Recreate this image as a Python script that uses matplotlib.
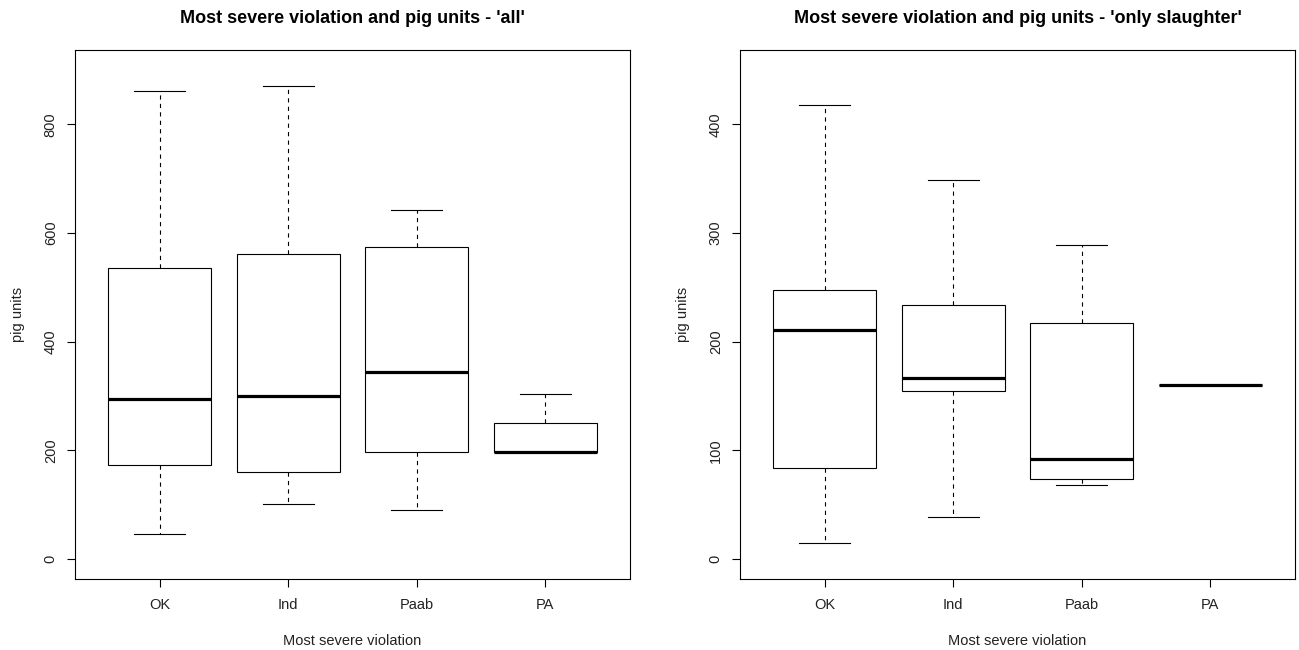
import matplotlib
matplotlib.use('Agg')
import matplotlib.pyplot as plt

plt.rcParams['font.family'] = ['Liberation Sans', 'DejaVu Sans']

categories = ['OK', 'Ind', 'Paab', 'PA']

# Panel 1: 'all'
all_whislo = [47, 102, 90, 198]
all_q1 = [173, 160, 197, 198]
all_med = [294, 301, 345, 198]
all_q3 = [535, 562, 575, 250]
all_whishi = [862, 870, 642, 303]

# Panel 2: 'only slaughter'
sl_whislo = [15, 39, 68, 160]
sl_q1 = [84, 155, 74, 160]
sl_med = [211, 167, 92, 160]
sl_q3 = [248, 234, 217, 160]
sl_whishi = [418, 349, 289, 160]

titles = ["Most severe violation and pig units - 'all'",
          "Most severe violation and pig units - 'only slaughter'"]
xlabel = "Most severe violation"
ylabel = "pig units"
yticks_all = [0, 200, 400, 600, 800]
yticks_sl = [0, 100, 200, 300, 400]


def make_stats(lo, q1, med, q3, hi):
    return [dict(label=c, whislo=a, q1=b, med=m, q3=d, whishi=e, fliers=[])
            for c, a, b, m, d, e in zip(categories, lo, q1, med, q3, hi)]


W, H = 1299, 650
fig = plt.figure(figsize=(W / 100, H / 100), dpi=100)
ax_bottom = 1 - 578.7 / H
ax_height = 528.3 / H
ax1 = fig.add_axes([75 / W, ax_bottom, 555 / W, ax_height])
ax2 = fig.add_axes([740 / W, ax_bottom, 555 / W, ax_height])

panels = [
    (ax1, make_stats(all_whislo, all_q1, all_med, all_q3, all_whishi), (-36, 936), yticks_all, titles[0]),
    (ax2, make_stats(sl_whislo, sl_q1, sl_med, sl_q3, sl_whishi), (-18, 468), yticks_sl, titles[1]),
]

lw = 0.8
for ax, stats, ylim, yt, title in panels:
    ax.bxp(stats, positions=[1, 2, 3, 4], widths=0.8, capwidths=0.4,
           showfliers=False, patch_artist=True,
           boxprops=dict(facecolor='white', edgecolor='black', linewidth=lw),
           whiskerprops=dict(color='black', linewidth=lw, linestyle=(0, (3.8, 3.8))),
           capprops=dict(color='black', linewidth=lw),
           medianprops=dict(color='black', linewidth=2.3, solid_capstyle='butt'))
    ax.set_xlim(0.34, 4.66)
    ax.set_ylim(*ylim)
    ax.set_yticks(yt)
    ax.set_xticks([1, 2, 3, 4])
    ax.set_xticklabels(categories)
    for s in ax.spines.values():
        s.set_linewidth(lw)
        s.set_color('black')
    ax.tick_params(axis='both', direction='out', length=6.1, width=lw,
                   labelsize=10.5, labelcolor='#222222', color='black')
    ax.tick_params(axis='x', pad=7.5)
    ax.tick_params(axis='y', pad=6.3, labelrotation=90)
    for t in ax.get_yticklabels():
        t.set_va('center')
    ax.set_xlabel(xlabel, fontsize=10.5, color='#222222', va='center')
    ax.xaxis.set_label_coords(0.5, -0.118)
    ax.set_ylabel(ylabel, fontsize=10.5, color='#222222', va='center')
    ax.yaxis.set_label_coords(-0.103, 0.5)
    ax.set_title(title, fontsize=13, fontweight='bold', y=1.061, pad=0, va='center')

fig.savefig('out.png', dpi=100)
